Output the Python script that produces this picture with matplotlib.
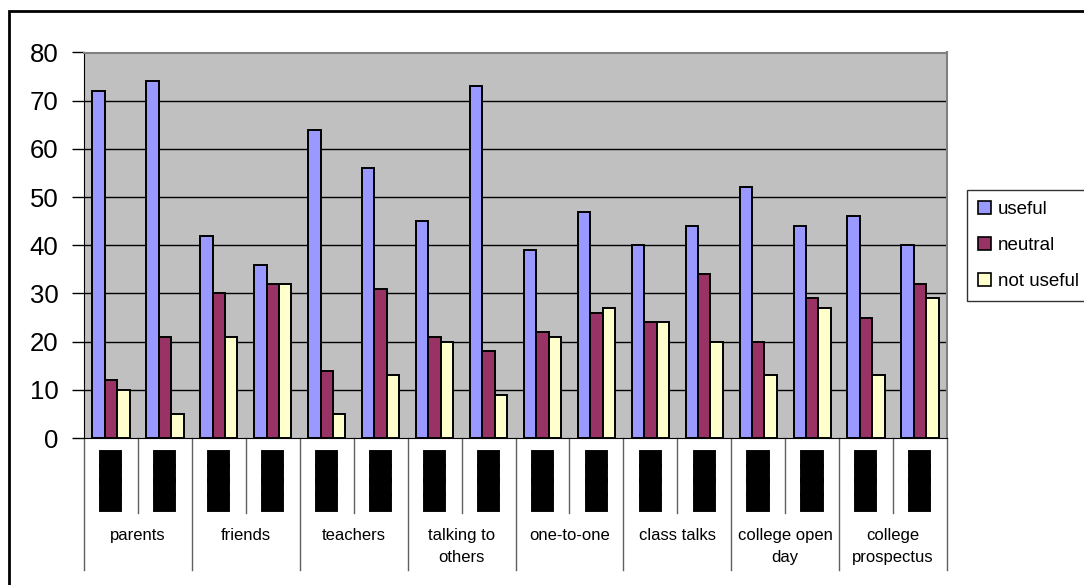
import matplotlib
matplotlib.use("Agg")
import matplotlib.pyplot as plt
from matplotlib.patches import Rectangle, Patch
import matplotlib.patheffects as pe
import numpy as np

plt.rcParams['font.family'] = ['Liberation Sans', 'DejaVu Sans']

categories = ["parents", "friends", "teachers", "talking to\nothers", "one-to-one",
              "class talks", "college open\nday", "college\nprospectus"]
sub_labels = ["████"] * 16
series_names = ["useful", "neutral", "not useful"]
useful = [72, 74, 42, 36, 64, 56, 45, 73, 39, 47, 40, 44, 52, 44, 46, 40]
neutral = [12, 21, 30, 32, 14, 31, 21, 18, 22, 26, 24, 34, 20, 29, 25, 32]
not_useful = [10, 5, 21, 32, 5, 13, 20, 9, 21, 27, 24, 20, 13, 27, 13, 29]
colors = ["#9999FF", "#993366", "#FFFFCC"]
yticks = [0, 10, 20, 30, 40, 50, 60, 70, 80]

W, H = 1084, 585
fig = plt.figure(figsize=(W / 100, H / 100), dpi=100)
L, R, T, B = 84, 947, 52.5, 438
ax = fig.add_axes([L / W, 1 - B / H, (R - L) / W, (B - T) / H])
ax.set_facecolor("#C0C0C0")

n = len(useful)
x = np.arange(n)
bw = 0.23
for i, (vals, c) in enumerate(zip([useful, neutral, not_useful], colors)):
    ax.bar(x + (i - 1) * bw, vals, width=bw, color=c, edgecolor="black",
           linewidth=1.4, zorder=3)

ax.set_xlim(-0.5, n - 0.5)
ax.set_ylim(0, 80)
ax.set_yticks(yticks)
ax.set_yticklabels([str(v) for v in yticks], fontsize=18.5)
ax.tick_params(axis="y", direction="out", length=9, width=1, pad=9.5)
ax.set_xticks([])
for yv in yticks[1:-1]:
    ax.axhline(yv, color="black", linewidth=1, zorder=1)
ax.spines["top"].set_color("#808080")
ax.spines["right"].set_color("#808080")
ax.spines["top"].set_linewidth(1.5)
ax.spines["right"].set_linewidth(1.5)
ax.spines["left"].set_color("black")
ax.spines["bottom"].set_color("black")

ph = B - T
tr = ax.get_xaxis_transform()
def yfrac(py):
    return (B - py) / ph

# separators
for k in range(n + 1):
    xb = k - 0.5
    bottom = 570 if k % 2 == 0 else 513
    ax.plot([xb, xb], [0, yfrac(bottom)], transform=tr, color="#606060",
            linewidth=1, clip_on=False)

# subgroup labels (rendered as blocks)
for k in range(n):
    ax.text(k, yfrac(452), sub_labels[k], transform=tr, rotation=90,
            ha="center", va="top", fontsize=13.5, family="DejaVu Sans",
            color="black",
            path_effects=[pe.withStroke(linewidth=2.8, foreground="black",
                                        joinstyle="miter")])

# category labels
for j, cat in enumerate(categories):
    ax.text(2 * j + 0.5, yfrac(528), cat, transform=tr, ha="center", va="top",
            fontsize=12, linespacing=1.6)

# legend
handles = [Patch(facecolor=c, edgecolor="black", linewidth=1.2) for c in colors]
leg = fig.legend(handles, series_names, loc="upper left",
                 bbox_to_anchor=(967 / W, 1 - 190 / H), fontsize=13.5,
                 frameon=True, fancybox=False, handlelength=0.7,
                 handleheight=0.7, handletextpad=0.35, labelspacing=1.0,
                 borderpad=0.6, borderaxespad=0)
leg.get_frame().set_edgecolor("black")
leg.get_frame().set_linewidth(1)

# outer frame
fig.patches.append(Rectangle((9 / W, -0.1), 1.2, 1 - 11 / H + 0.1,
                             transform=fig.transFigure, fill=False,
                             edgecolor="black", linewidth=2))

fig.savefig("out.png", dpi=100)
